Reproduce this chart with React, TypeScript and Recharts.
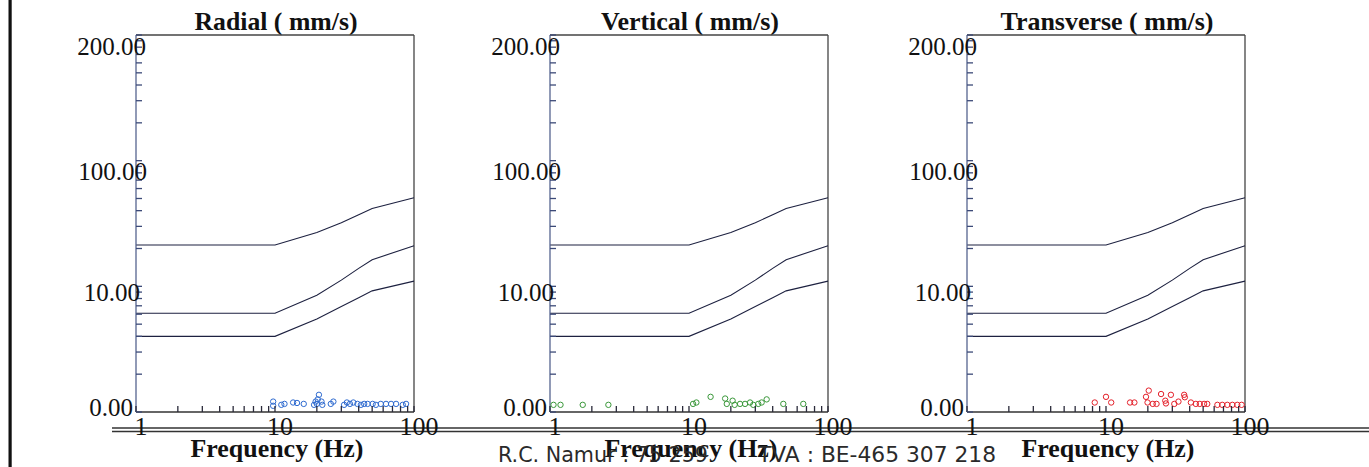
import React from 'react';
import { ComposedChart, Line, Scatter, XAxis, YAxis, ReferenceLine } from 'recharts';

// limit curves, shared by the three panels (Hz -> mm/s)
const limitFreqs = [1, 10, 20, 30, 40, 50, 100];
const limitUpper = [21.3, 21.3, 26.8, 32.1, 37.1, 41.6, 50.7];
const limitMiddle = [6.1, 6.1, 8.5, 11.2, 13.9, 16.3, 21.0];
const limitLower = [4.0, 4.0, 5.5, 6.9, 8.1, 9.2, 11.0];

// axis ticks
const freqTicks = [1, 2, 3, 4, 5, 6, 7, 8, 9, 10, 20, 30, 40, 50, 60, 70, 80, 90, 100];
const freqLabelValues = [1, 10, 100];
const freqLabelTexts = ['1', '10', '100'];
const velTicks = [
  1, 2, 3, 4, 5, 6, 7, 8, 9, 10, 20, 30, 40, 50, 60, 70, 80, 90, 100, 200, 300, 400, 500, 600, 700, 800, 900, 1000,
];
const velLabelValues = [1, 10, 100, 1000];
const velLabelTexts = ['0.00', '10.00', '100.00', '200.00'];

// measured events
const radialFreq = [
  9.7, 9.7, 11.1, 11.7, 13.5, 14.4, 16.1, 19.1, 19.6, 20.3, 20.7, 20.0, 21.6, 21.9, 25.2, 26.3, 31.4, 32.9, 34.6,
  36.6, 39.2, 41.5, 43.8, 46.4, 50.4, 53.2, 57.7, 62.9, 68.4, 74.3, 83.0, 87.7,
];
const radialVel = [
  1.12, 1.21, 1.14, 1.16, 1.19, 1.18, 1.16, 1.14, 1.21, 1.26, 1.37, 1.16, 1.21, 1.14, 1.16, 1.21, 1.14, 1.19, 1.16,
  1.19, 1.16, 1.14, 1.16, 1.16, 1.16, 1.14, 1.16, 1.16, 1.16, 1.16, 1.14, 1.16,
];

const verticalFreq = [
  1.06, 1.19, 1.72, 2.63, 10.7, 11.3, 14.3, 18.2, 18.7, 20.6, 21.3, 23.3, 25.3, 27.5, 29.0, 31.5, 33.3, 36.2, 47.7,
  66.4,
];
const verticalVel = [
  1.14, 1.14, 1.14, 1.14, 1.16, 1.19, 1.32, 1.28, 1.16, 1.23, 1.14, 1.16, 1.16, 1.19, 1.14, 1.16, 1.19, 1.26, 1.16,
  1.16,
];

const transverseFreq = [
  8.3, 10.0, 10.9, 14.9, 16.0, 19.4, 20.3, 19.9, 21.7, 23.1, 24.9, 26.7, 27.0, 29.3, 31.0, 33.2, 36.5, 36.9, 40.8,
  44.3, 47.3, 50.8, 53.5, 63.3, 68.6, 74.6, 81.1, 88.0, 94.6,
];
const transverseVel = [
  1.19, 1.32, 1.19, 1.19, 1.19, 1.32, 1.48, 1.19, 1.16, 1.16, 1.39, 1.23, 1.17, 1.37, 1.16, 1.21, 1.37, 1.31, 1.19,
  1.16, 1.16, 1.16, 1.16, 1.14, 1.14, 1.14, 1.14, 1.14, 1.14,
];

const limitRows = limitFreqs.map((f, i) => ({
  f,
  upper: limitUpper[i],
  middle: limitMiddle[i],
  lower: limitLower[i],
}));

const toPoints = (freqs: number[], vels: number[]) => freqs.map((f, i) => ({ f, v: vels[i] }));

const SERIF = '"Liberation Serif", "Times New Roman", serif';
const PLOT_W = 278;
const AXIS_W = 1;
const MARGIN = { top: 35, right: 30, bottom: 54, left: 99 };
const CHART_W = MARGIN.left + AXIS_W + PLOT_W + MARGIN.right;
const CHART_H = 467;
const NO_TICK = 0.001; // recharts treats 0 as "use default size"

// label nudges (dx, dy) per velocity label, same order as velLabelValues
const Y_LABEL_NUDGE = [
  { dx: -3, dy: 4 },
  { dx: 4, dy: 15 },
  { dx: 11, dy: 19 },
  { dx: 10, dy: 20 },
];

const YTick = (props: any) => {
  const { x, y, payload } = props;
  const i = velLabelValues.indexOf(payload.value);
  return (
    <g>
      <line x1={x} x2={x + 6} y1={y} y2={y} stroke="#3c4a78" strokeWidth={1.3} />
      {i >= 0 && (
        <text
          x={x + Y_LABEL_NUDGE[i].dx}
          y={y + Y_LABEL_NUDGE[i].dy}
          textAnchor="end"
          fontFamily={SERIF}
          fontSize={25}
          fill="#111"
        >
          {velLabelTexts[i]}
        </text>
      )}
    </g>
  );
};

const XTick = (props: any) => {
  const { x, y, payload } = props;
  const i = freqLabelValues.indexOf(payload.value);
  return (
    <g>
      <line x1={x} x2={x} y1={y} y2={y - 6} stroke="#2a2a3a" strokeWidth={1.3} />
      {i >= 0 && (
        <text x={x + 5} y={y + 23} textAnchor="middle" fontFamily={SERIF} fontSize={26} fill="#111">
          {freqLabelTexts[i]}
        </text>
      )}
    </g>
  );
};

interface PanelProps {
  left: number;
  points: { f: number; v: number }[];
  color: string;
}

const Panel: React.FC<PanelProps> = ({ left, points, color }) => (
  <div style={{ position: 'absolute', left: left - MARGIN.left - AXIS_W, top: 0 }}>
    <ComposedChart width={CHART_W} height={CHART_H} data={limitRows} margin={MARGIN}>
      <XAxis
        dataKey="f"
        type="number"
        scale="log"
        domain={[1, 100]}
        ticks={freqTicks}
        interval={0}
        height={AXIS_W}
        tickSize={NO_TICK}
        tickMargin={0}
        tickLine={false}
        tick={XTick}
        axisLine={{ stroke: '#333', strokeWidth: 1.3 }}
      />
      <YAxis
        dataKey="v"
        type="number"
        scale="log"
        domain={[1, 1000]}
        allowDataOverflow
        ticks={velTicks}
        interval={0}
        width={AXIS_W}
        tickSize={NO_TICK}
        tickMargin={0}
        tickLine={false}
        tick={YTick}
        axisLine={{ stroke: '#55648f', strokeWidth: 1.3 }}
      />
      <ReferenceLine y={1000} stroke="#444" strokeWidth={1.3} />
      <ReferenceLine x={100} stroke="#444" strokeWidth={1.3} />
      <Line dataKey="upper" type="linear" stroke="#1d2140" strokeWidth={1.1} dot={false} isAnimationActive={false} />
      <Line dataKey="middle" type="linear" stroke="#1d2140" strokeWidth={1.1} dot={false} isAnimationActive={false} />
      <Line dataKey="lower" type="linear" stroke="#1d2140" strokeWidth={1.1} dot={false} isAnimationActive={false} />
      <Scatter
        data={points}
        isAnimationActive={false}
        shape={(p: any) => <circle cx={p.cx} cy={p.cy} r={2.7} fill="none" stroke={color} strokeWidth={1} />}
      />
    </ComposedChart>
  </div>
);

const PANELS = [
  { left: 136, title: 'Radial ( mm/s)', titleW: 163, color: '#2f6bd0', points: toPoints(radialFreq, radialVel) },
  { left: 550, title: 'Vertical ( mm/s)', titleW: 178, color: '#3a983a', points: toPoints(verticalFreq, verticalVel) },
  {
    left: 967,
    title: 'Transverse ( mm/s)',
    titleW: 213,
    color: '#e4202a',
    points: toPoints(transverseFreq, transverseVel),
  },
];

export default function App() {
  return (
    <div style={{ position: 'relative', width: 1369, height: 467, overflow: 'hidden', background: '#fff' }}>
      <style>{'body{margin:0}'}</style>
      <svg width={1369} height={467} style={{ position: 'absolute', left: 0, top: 0 }}>
        <rect x={8.5} y={0} width={3.2} height={467} fill="#111" />
        <line x1={112} x2={1369} y1={428} y2={428} stroke="#333" strokeWidth={1.3} />
        <line x1={112} x2={1369} y1={431.5} y2={431.5} stroke="#333" strokeWidth={1.3} />
        {PANELS.map((p) => (
          <g key={p.title}>
            <text
              x={p.left + PLOT_W / 2 + 1}
              y={30}
              textAnchor="middle"
              fontFamily={SERIF}
              fontWeight="bold"
              fontSize={25}
              textLength={p.titleW}
              lengthAdjust="spacingAndGlyphs"
              fill="#111"
            >
              {p.title}
            </text>
            <text
              x={p.left + PLOT_W / 2 + 2}
              y={457}
              textAnchor="middle"
              fontFamily={SERIF}
              fontWeight="bold"
              fontSize={25}
              textLength={173}
              lengthAdjust="spacingAndGlyphs"
              fill="#111"
            >
              Frequency (Hz)
            </text>
          </g>
        ))}
        <text
          x={498}
          y={462}
          fontFamily='"DejaVu Sans", sans-serif'
          fontSize={21}
          textLength={210}
          lengthAdjust="spacingAndGlyphs"
          fill="#2a2a2a"
        >
          R.C. Namur : 75 259
        </text>
        <text
          x={758}
          y={462}
          fontFamily='"DejaVu Sans", sans-serif'
          fontSize={21}
          textLength={238}
          lengthAdjust="spacingAndGlyphs"
          fill="#2a2a2a"
        >
          TVA : BE-465 307 218
        </text>
      </svg>
      {PANELS.map((p) => (
        <Panel key={p.title} left={p.left} points={p.points} color={p.color} />
      ))}
    </div>
  );
}
